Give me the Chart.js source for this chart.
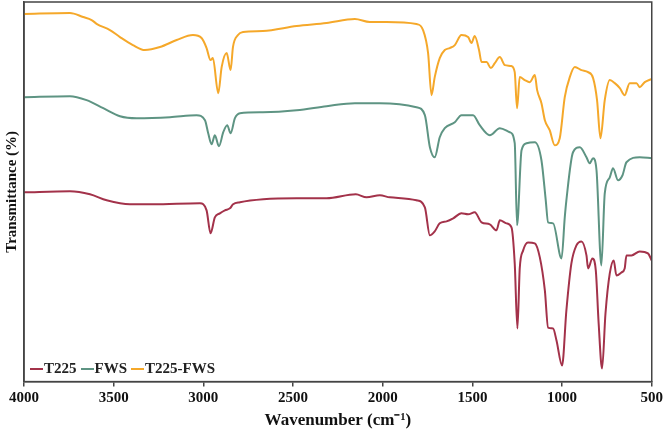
<!DOCTYPE html>
<html>
<head>
<meta charset="utf-8">
<script src="https://cdn.jsdelivr.net/npm/chart.js@4.4.1/dist/chart.umd.min.js"></script>
<style>
  html, body { margin: 0; padding: 0; background: #fff; }
  #wrap { position: relative; width: 666px; height: 432px; }
  #legend { position: absolute; left: 30px; top: 360px; display: flex; align-items: center;
            font-family: 'Liberation Serif', 'Times New Roman', serif; font-weight: bold; font-size: 15px; color: #222; }
  #legend .item { display: flex; align-items: center; margin-right: 4px; }
  #legend .sw { display: inline-block; width: 13px; height: 2px; margin-right: 1px; }
</style>
</head>
<body>
<div id="wrap">
  <canvas id="c" width="666" height="432"></canvas>
  <div id="legend"></div>
</div>
<script>
// ---- Data (wavenumber in cm-1, transmittance in arbitrary offset units) ----
const seriesNames = ['T225', 'FWS', 'T225-FWS'];
const xTicks = [4000, 3500, 3000, 2500, 2000, 1500, 1000, 500];

const t225Wn = [4000,3744,3632,3539,3409,3279,3019,2982,2960,2936,2908,2880,2852,2834,2796,2666,2480,2313,2150,2090,2016,1960,1812,1765,1737,1710,1682,1644,1607,1561,1524,1487,1449,1403,1366,1347,1310,1282,1264,1249,1236,1217,1190,1152,1124,1096,1078,1050,1031,1000,976,948,920,892,864,855,831,812,796,777,758,734,712,697,669,651,641,613,567,521,500];
const t225T  = [189,190,187,181,177,177,178,171,148,164,168,171,173,177,179,182,183,183,187,184,186,184,181,174,146,150,158,160,163,168,167,169,159,157,151,161,158,154,118,53,113,131,139,138,124,91,54,53,41,16,71,118,136,140,126,113,123,111,58,13,68,108,121,106,109,113,126,126,130,128,121];

const fwsWn = [4000,3744,3651,3558,3465,3372,3186,3038,2991,2973,2954,2936,2913,2889,2867,2848,2824,2796,2668,2480,2313,2155,2016,1812,1765,1737,1710,1682,1654,1598,1561,1496,1459,1403,1347,1292,1264,1251,1226,1198,1152,1115,1091,1078,1050,1003,985,976,939,901,864,846,827,808,781,762,734,716,688,663,641,567,500];
const fwsT  = [284,285,281,273,265,263,264,266,261,248,237,246,235,249,256,248,263,268,269,271,275,278,278,274,266,234,224,244,253,259,266,266,256,246,253,249,238,156,231,238,239,221,181,159,158,123,164,181,229,234,224,218,223,211,116,188,204,213,201,206,219,224,223];

const mixWn = [4000,3744,3670,3623,3593,3521,3465,3393,3326,3242,3149,3058,3010,2982,2960,2947,2917,2898,2870,2848,2835,2807,2778,2668,2480,2313,2155,2072,1979,1812,1775,1747,1728,1710,1682,1654,1626,1598,1561,1524,1505,1487,1463,1449,1421,1397,1375,1347,1319,1282,1264,1251,1236,1208,1180,1152,1139,1115,1096,1069,1041,1013,985,957,929,892,855,827,805,786,762,734,706,678,651,623,585,567,539,502];
const mixT  = [367,368,364,361,357,351,344,336,331,334,341,346,343,333,321,323,288,314,328,311,334,346,349,350,355,358,362,359,359,357,351,328,286,304,323,331,333,336,346,344,338,345,331,319,319,313,318,324,316,315,309,273,304,301,299,306,291,278,261,251,236,243,284,304,314,311,309,303,281,243,281,301,298,293,286,298,298,294,299,302];

const colors = ['#A3324A', '#5E9483', '#F5A82A'];

// ---- Build chart ----
function pts(xs, ys) { return xs.map((x, i) => ({ x: x, y: ys[i] })); }
const serif = "'Liberation Serif', 'Times New Roman', serif";

const frame = {
  id: 'frame',
  afterDraw(chart) {
    const a = chart.chartArea, ctx = chart.ctx;
    ctx.save();
    ctx.strokeStyle = '#444';
    ctx.lineWidth = 1.5;
    ctx.strokeRect(a.left, a.top, a.right - a.left, a.bottom - a.top);
    ctx.restore();
  }
};

const chart = new Chart(document.getElementById('c'), {
  type: 'line',
  data: {
    datasets: [
      { label: seriesNames[0], data: pts(t225Wn, t225T), borderColor: colors[0] },
      { label: seriesNames[1], data: pts(fwsWn, fwsT), borderColor: colors[1] },
      { label: seriesNames[2], data: pts(mixWn, mixT), borderColor: colors[2] }
    ]
  },
  options: {
    responsive: false,
    animation: false,
    devicePixelRatio: 1,
    parsing: false,
    layout: { padding: { top: 2, right: 14, bottom: 0, left: 0 } },
    elements: {
      point: { radius: 0 },
      line: { borderWidth: 2, cubicInterpolationMode: 'monotone', fill: false }
    },
    plugins: { legend: { display: false }, tooltip: { enabled: false } },
    scales: {
      x: {
        type: 'linear', reverse: true, min: 500, max: 4000,
        afterBuildTicks(scale) { scale.ticks = xTicks.map(v => ({ value: v })); },
        ticks: { callback: v => String(v), color: '#111', maxRotation: 0, padding: 3,
                 font: { family: serif, size: 15, weight: 'bold' } },
        grid: { drawOnChartArea: false, drawTicks: true, tickLength: 5, color: '#444', lineWidth: 1.5 },
        border: { display: true, color: '#444', width: 1.5 },
        title: { display: true, text: 'Wavenumber (cm⁻¹)', color: '#111', padding: { top: 0, bottom: 1 },
                 font: { family: serif, size: 17, weight: 'bold' } }
      },
      y: {
        min: 0, max: 379,
        ticks: { display: false },
        grid: { display: false, drawTicks: false },
        border: { display: true, color: '#444', width: 1.5 },
        title: { display: true, text: 'Transmittance (%)', color: '#111', padding: { top: 3, bottom: 3 },
                 font: { family: serif, size: 15, weight: 'bold' } }
      }
    }
  },
  plugins: [frame]
});

// ---- HTML legend built from datasets ----
const lg = document.getElementById('legend');
chart.data.datasets.forEach(ds => {
  const it = document.createElement('span'); it.className = 'item';
  const sw = document.createElement('span'); sw.className = 'sw'; sw.style.background = ds.borderColor;
  const tx = document.createElement('span'); tx.textContent = ds.label;
  it.appendChild(sw); it.appendChild(tx); lg.appendChild(it);
});
</script>
</body>
</html>
